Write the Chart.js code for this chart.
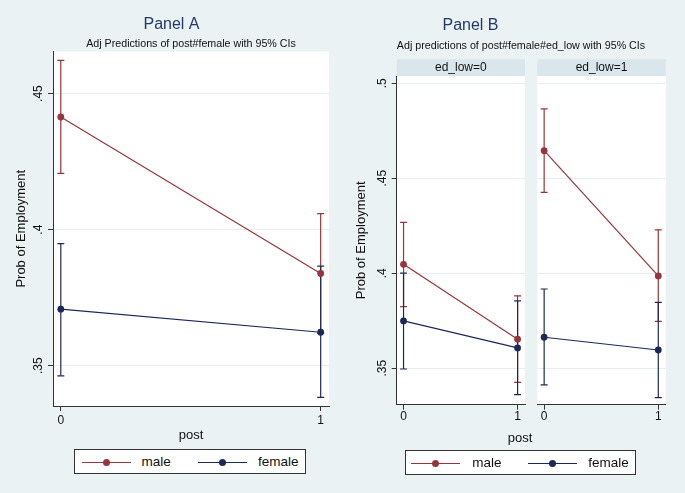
<!DOCTYPE html>
<html>
<head>
<meta charset="utf-8">
<script src="https://cdn.jsdelivr.net/npm/chart.js@4.4.1/dist/chart.umd.min.js"></script>
<style>
  body { margin: 0; background: #eaf2f3; font-family: "Liberation Sans", Arial, sans-serif; }
  #page { position: relative; width: 685px; height: 493px; overflow: hidden; }
  .box { position: absolute; }
  .txt { position: absolute; text-align: center; color: #111; white-space: nowrap; }
  .legend { position: absolute; background: #fff; border: 1px solid #333; box-sizing: border-box; }
  .legend .ln { position: absolute; height: 1.3px; }
  .legend .dot { position: absolute; width: 7px; height: 7px; border-radius: 50%; }
  .legend .lab { position: absolute; font-size: 13.5px; line-height: 16px; color: #111; }
</style>
</head>
<body>
<div id="page">
  <div class="box" style="left:0;top:0;width:340px;height:445px"><canvas id="panelA"></canvas></div>
  <div class="box" style="left:340px;top:0;width:191px;height:445px"><canvas id="panelB0"></canvas></div>
  <div class="box" style="left:531px;top:0;width:154px;height:445px"><canvas id="panelB1"></canvas></div>

  <div class="txt" style="left:400px;top:15px;width:141px;font-size:16px;line-height:20px;color:#24386a">Panel B</div>
  <div class="txt" style="left:371px;top:38.5px;width:300px;font-size:10.7px;line-height:12px">Adj predictions of post#female#ed_low with 95% CIs</div>
  <div class="txt" style="left:470px;top:429.5px;width:100px;font-size:13px;line-height:16px">post</div>

  <div class="legend" id="legendA" style="left:73.5px;top:449.3px;width:232.5px;height:25px"></div>
  <div class="legend" id="legendB" style="left:405.3px;top:450px;width:230.7px;height:24.5px"></div>
</div>

<script>
// categories and series
var posts = [0, 1];
var seriesNames = ["male", "female"];
var seriesColors = ["#96353b", "#1c2957"];

// Panel A: post#female
var maleA = [0.4414, 0.3839];
var maleLoA = [0.4207, 0.3619];
var maleHiA = [0.4622, 0.4059];
var femaleA = [0.3708, 0.3623];
var femaleLoA = [0.3463, 0.3384];
var femaleHiA = [0.3949, 0.3866];

// Panel B, ed_low=0
var maleB0 = [0.4047, 0.3653];
var maleLoB0 = [0.3824, 0.3426];
var maleHiB0 = [0.4268, 0.3881];
var femaleB0 = [0.3749, 0.3607];
var femaleLoB0 = [0.3496, 0.3361];
var femaleHiB0 = [0.4000, 0.3854];

// Panel B, ed_low=1
var maleB1 = [0.4645, 0.3986];
var maleLoB1 = [0.4426, 0.3747];
var maleHiB1 = [0.4865, 0.4228];
var femaleB1 = [0.3663, 0.3596];
var femaleLoB1 = [0.3412, 0.3345];
var femaleHiB1 = [0.3917, 0.3847];

// tick labels
var xTicks = [0, 1];
var xTickLabels = ["0", "1"];
var yTicksA = [0.35, 0.40, 0.45];
var yTickLabelsA = [".35", ".4", ".45"];
var yTicksB = [0.35, 0.40, 0.45, 0.50];
var yTickLabelsB = [".35", ".4", ".45", ".5"];

Chart.defaults.font.family = "'Liberation Sans', Arial, sans-serif";
Chart.defaults.color = "#111";

var axisColor = "#333";
var gridColor = "#e6eef1";
var stripColor = "#d9e6eb";

// white plot region + facet strip behind the title text
var backPlugin = {
  id: "back",
  beforeDraw: function(chart) {
    var ctx = chart.ctx, a = chart.chartArea;
    ctx.save();
    ctx.fillStyle = "#fff";
    ctx.fillRect(a.left, a.top, a.right - a.left, a.bottom - a.top);
    if (chart.options.plugins.strip && chart.titleBlock) {
      var t = chart.titleBlock;
      ctx.fillStyle = stripColor;
      ctx.fillRect(a.left, t.top, a.right - a.left, t.bottom - t.top);
    }
    ctx.restore();
  }
};

function lineSet(vals, color) {
  return {
    type: "line",
    data: posts.map(function(p, i) { return {x: p, y: vals[i]}; }),
    borderColor: color,
    backgroundColor: color,
    borderWidth: 1.2,
    pointRadius: 3.4,
    pointBorderWidth: 0,
    pointBackgroundColor: color,
    order: 1
  };
}

function ciSet(lo, hi, color) {
  var pts = [];
  posts.forEach(function(p, i) {
    pts.push({x: p, y: lo[i]}, {x: p, y: hi[i]}, {x: p, y: null});
  });
  return {
    type: "line",
    data: pts,
    borderColor: color,
    borderWidth: 1.2,
    spanGaps: false,
    pointStyle: "line",
    pointRadius: 3.5,
    pointBorderColor: color,
    pointBorderWidth: 1.2,
    order: 3
  };
}

function datasets(m, mLo, mHi, f, fLo, fHi) {
  var mc = ciSet(mLo, mHi, seriesColors[0]); mc.order = 4;
  var fc = ciSet(fLo, fHi, seriesColors[1]); fc.order = 3;
  var ml = lineSet(m, seriesColors[0]); ml.order = 2;
  var fl = lineSet(f, seriesColors[1]); fl.order = 1;
  return [mc, fc, ml, fl];
}

function xScale(min, max, pad, height) {
  return {
    type: "linear", min: min, max: max,
    afterBuildTicks: function(s) { s.ticks = xTicks.map(function(v) { return {value: v}; }); },
    ticks: {
      padding: pad, font: {size: 12}, color: "#111",
      callback: function(v) { return xTickLabels[xTicks.indexOf(v)]; }
    },
    grid: {drawOnChartArea: false, tickLength: 5, tickColor: axisColor, tickWidth: 1},
    border: {color: axisColor, width: 1},
    afterFit: function(s) { s.height = height; }
  };
}

function yScale(min, max, ticks, labels, width, showAxis) {
  return {
    type: "linear", min: min, max: max,
    afterBuildTicks: function(s) { s.ticks = ticks.map(function(v) { return {value: v}; }); },
    ticks: {
      display: showAxis, minRotation: 90, maxRotation: 90, crossAlign: "center",
      padding: 1, font: {size: 12}, color: "#111",
      callback: function(v) { return labels[ticks.indexOf(v)]; }
    },
    grid: {color: gridColor, lineWidth: 1, drawTicks: showAxis, tickLength: 5, tickColor: axisColor},
    border: {display: showAxis, color: axisColor, width: 1},
    title: {display: showAxis, text: "Prob of Employment", font: {size: 13}, padding: {top: 0, bottom: 0}},
    afterFit: function(s) { s.width = width; }
  };
}

new Chart("panelA", {
  data: {datasets: datasets(maleA, maleLoA, maleHiA, femaleA, femaleLoA, femaleHiA)},
  plugins: [backPlugin],
  options: {
    responsive: true, maintainAspectRatio: false, animation: false,
    layout: {padding: {left: 14, right: 11, top: 0, bottom: 0}},
    plugins: {
      legend: {display: false},
      tooltip: {enabled: false},
      title: {
        display: true, text: "Panel A", color: "#24386a",
        font: {size: 16, weight: "normal"}, padding: {top: 15.4, bottom: 0}
      },
      subtitle: {
        display: true, text: "Adj Predictions of post#female with 95% CIs", fullSize: false,
        color: "#111", font: {size: 10.7}, padding: {top: 3, bottom: 1}
      }
    },
    scales: {
      x: Object.assign(xScale(-0.03, 1.032, 2.3, 39), {
        title: {display: true, text: "post", font: {size: 13}, padding: {top: 0, bottom: 2.2}}
      }),
      y: yScale(0.3352, 0.4655, yTicksA, yTickLabelsA, 39, true)
    }
  }
});

function facet(id, title, padLeft, padRight, yWidth, showAxis, data) {
  new Chart(id, {
    data: {datasets: data},
    plugins: [backPlugin],
    options: {
      responsive: true, maintainAspectRatio: false, animation: false,
      layout: {padding: {left: padLeft, right: padRight, top: 59.3, bottom: 0}},
      plugins: {
        legend: {display: false},
        tooltip: {enabled: false},
        strip: true,
        title: {
          display: true, text: title, fullSize: false, color: "#111",
          font: {size: 12, weight: "normal"}, padding: {top: 1.2, bottom: 1.1}
        }
      },
      scales: {
        x: xScale(-0.06, 1.065, 0, 40.3),
        y: yScale(0.3308, 0.5038, yTicksB, yTickLabelsB, yWidth, showAxis)
      }
    }
  });
}

facet("panelB0", "ed_low=0", 14, 6, 42.7, true,
  datasets(maleB0, maleLoB0, maleHiB0, femaleB0, femaleLoB0, femaleHiB0));
facet("panelB1", "ed_low=1", 6.3, 19.3, 0, false,
  datasets(maleB1, maleLoB1, maleHiB1, femaleB1, femaleLoB1, femaleHiB1));

// legends: line with a dot, then the name
function buildLegend(id, items) {
  var box = document.getElementById(id);
  items.forEach(function(it, i) {
    var ln = document.createElement("div");
    ln.className = "ln";
    ln.style.cssText = "left:" + it.line + "px;top:11.5px;width:49px;background:" + seriesColors[i];
    var dot = document.createElement("div");
    dot.className = "dot";
    dot.style.cssText = "left:" + (it.line + 21) + "px;top:8.5px;background:" + seriesColors[i];
    var lab = document.createElement("div");
    lab.className = "lab";
    lab.style.cssText = "left:" + it.text + "px;top:3.5px";
    lab.textContent = seriesNames[i];
    box.appendChild(ln); box.appendChild(dot); box.appendChild(lab);
  });
}
buildLegend("legendA", [{line: 7, text: 67}, {line: 123.5, text: 183.5}]);
buildLegend("legendB", [{line: 5.2, text: 66}, {line: 121.9, text: 182}]);
</script>
</body>
</html>
